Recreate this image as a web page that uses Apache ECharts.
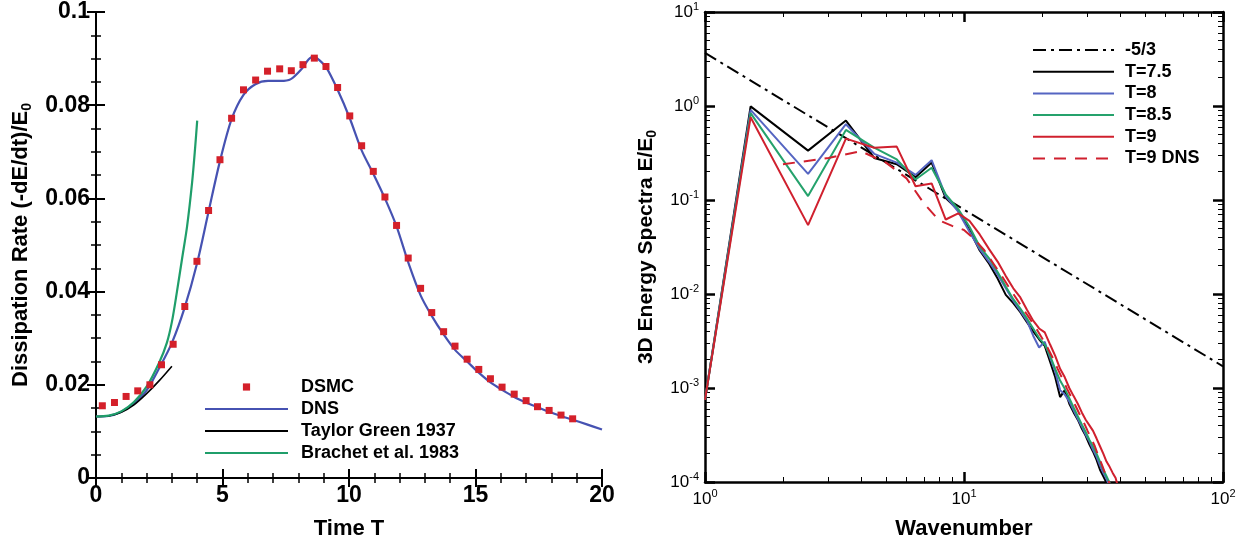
<!DOCTYPE html>
<html><head><meta charset="utf-8">
<script src="https://cdn.jsdelivr.net/npm/echarts@6/dist/echarts.min.js"></script>
<style>html,body{margin:0;padding:0;background:#fff}#c{width:1245px;height:545px}</style>
</head><body><div id="c"></div>
<script>
// ---------- Left panel: dissipation rate ----------
const tDSMC = [0.25,0.73,1.19,1.65,2.13,2.59,3.05,3.51,3.99,4.45,4.90,5.36,5.83,6.31,6.78,7.26,7.72,8.18,8.63,9.09,9.55,10.03,10.50,10.96,11.42,11.88,12.34,12.83,13.27,13.74,14.19,14.67,15.13,15.59,16.05,16.53,17.00,17.45,17.91,18.38,18.84];
const dDSMC = [0.0155,0.0162,0.0175,0.0187,0.0200,0.0243,0.0287,0.0368,0.0465,0.0574,0.0683,0.0772,0.0833,0.0854,0.0873,0.0878,0.0874,0.0887,0.0901,0.0883,0.0838,0.0777,0.0713,0.0658,0.0603,0.0542,0.0472,0.0407,0.0355,0.0314,0.0283,0.0255,0.0233,0.0213,0.0195,0.0180,0.0166,0.0153,0.0145,0.0135,0.0127];
const tDNS = [0,0.5,1,1.5,2,2.5,3,3.5,4,4.45,4.9,5.36,5.83,6.3,6.8,7.3,7.7,8.1,8.4,8.6,8.8,9.1,9.55,10.03,10.5,10.96,11.42,11.88,12.34,12.83,13.27,13.74,14.19,14.67,15.13,15.59,16.05,16.53,17.0,17.45,17.91,18.38,18.84,19.4,20];
const dDNS = [0.0132,0.0133,0.0142,0.0160,0.0188,0.0236,0.0290,0.0365,0.0462,0.0572,0.0680,0.0770,0.0822,0.0845,0.0852,0.0852,0.0856,0.0876,0.0898,0.0905,0.0898,0.0881,0.0833,0.0772,0.0703,0.0653,0.0600,0.0540,0.0463,0.0392,0.0348,0.0308,0.0275,0.0250,0.0226,0.0205,0.0189,0.0174,0.0162,0.0152,0.0142,0.0133,0.0125,0.0115,0.0104];
const tTG = [0,0.5,1,1.5,2,2.5,3];
const dTG = [0.0132,0.0133,0.0141,0.0157,0.0181,0.0209,0.0240];
const tBr = [0,0.5,1,1.5,2,2.5,2.8,3.0,3.2,3.4,3.6,3.8,3.92,4.0];
const dBr = [0.0132,0.0134,0.0143,0.0163,0.0196,0.0248,0.0290,0.0335,0.0400,0.0470,0.0540,0.0635,0.0710,0.0767];
const leftXTicks = [0,5,10,15,20];
const leftYTicks = [0,0.02,0.04,0.06,0.08,0.1];

// ---------- Right panel: energy spectra ----------
const kDSMC = [1,1.5,2.5,3.5,4.5,5.5,6.5,7.5,8.5,9.5,10.5,11.5,12.5,13.5,14.5,15.5,16.5,17.5,18.5,19.5,20.5,21.5,22.5,23.5,24.5,25.5,26.5,27.5,28.5,29.5,30.5,31.5,32.5,33.5,34.5,35.5,36.5,37.5,38.5,39.5];
const eT75 = [7.5e-4,0.99,0.335,0.70,0.28,0.24,0.175,0.25,0.105,0.078,0.048,0.029,0.021,0.0145,0.0098,0.0080,0.0064,0.0050,0.0040,0.0033,0.0028,0.0019,0.0013,0.00080,0.00095,0.00068,0.00055,0.00046,0.00037,0.00031,0.00025,0.00021,0.000172,0.000135,0.000115,0.000098,0.00008,null,null,null];
const eT8 = [7.5e-4,0.91,0.19,0.64,0.31,0.25,0.185,0.265,0.11,0.075,0.046,0.030,0.022,0.016,0.0115,0.0085,0.0066,0.0052,0.0036,0.0027,0.0031,0.0021,0.0015,0.00095,0.00085,0.00072,0.00058,0.00047,0.00039,0.00032,0.00027,0.00022,0.000185,0.000150,0.000125,0.000108,0.00009,null,null,null];
const eT85 = [7.5e-4,0.84,0.11,0.556,0.36,0.27,0.165,0.22,0.115,0.080,0.052,0.032,0.024,0.017,0.012,0.0088,0.0070,0.0055,0.0043,0.0034,0.0029,0.0022,0.0016,0.0012,0.00098,0.00078,0.00062,0.00050,0.00041,0.00034,0.00028,0.00024,0.00020,0.000165,0.000135,0.000115,0.000098,0.00008,null,null];
const eT9 = [7.5e-4,0.76,0.054,0.45,0.36,0.37,0.14,0.15,0.062,0.072,0.060,0.043,0.030,0.022,0.0155,0.0115,0.0092,0.0068,0.0052,0.0043,0.0039,0.0029,0.0022,0.0016,0.0013,0.00100,0.00082,0.00068,0.00055,0.00046,0.00040,0.00035,0.00029,0.00024,0.00020,0.000165,0.000145,0.000125,0.00011,0.000085];
const kDNS = [2,3,4,5,6,7,8,9,10,11,12,13,14,15,16,17,18,19,20,21,22,23,24,25,26,27,28,29,30,31,32,33,34,35,36,37];
const eDNS = [0.24,0.28,0.33,0.25,0.17,0.092,0.061,0.053,0.048,0.038,0.029,0.021,0.0155,0.0115,0.0088,0.0068,0.0054,0.0043,0.0034,0.0027,0.0021,0.0016,0.00125,0.00098,0.00079,0.00064,0.00052,0.00043,0.00035,0.00029,0.00024,0.00019,0.000155,0.000125,0.000105,0.000088];
const kSlope = [1,100];
const eSlope = [3.67,0.0017];
const specXExp = {1:'0',10:'1',100:'2'};
const specYExp = {0.0001:'-4',0.001:'-3',0.01:'-2',0.1:'-1',1:'0',10:'1'};

const zip = (a,b) => a.map((v,i) => [v,b[i]]);

const FONT = 'Liberation Sans, Arial, Helvetica, sans-serif';
const chart = echarts.init(document.getElementById('c'), null, {renderer:'canvas'});

function leftAxis(extra, split) {
  return Object.assign({
    axisLine:{show:true,lineStyle:{color:'#000',width:2}},
    axisTick:{show:true,inside:true,length:9,lineStyle:{color:'#000',width:2}},
    minorTick:{show:true,splitNumber:split,length:5,lineStyle:{color:'#000',width:1.5}},
    splitLine:{show:false}, minorSplitLine:{show:false}
  }, extra);
}
function rightAxis(extra) {
  return Object.assign({
    type:'log', logBase:10,
    axisLine:{show:true,lineStyle:{color:'#000',width:2.5}},
    axisTick:{show:true,inside:true,length:10,lineStyle:{color:'#000',width:2.5}},
    minorTick:{show:true,splitNumber:9,length:5,lineStyle:{color:'#000',width:1}},
    splitLine:{show:false}, minorSplitLine:{show:false}
  }, extra);
}
const supRich = {
  b:{fontFamily:FONT,fontSize:17,color:'#000',lineHeight:22},
  s:{fontFamily:FONT,fontSize:11,color:'#000',verticalAlign:'top',lineHeight:11}
};
const hideSym = {itemStyle:{opacity:0}};

const option = {
  animation:false,
  backgroundColor:'#fff',
  grid:[
    {left:96,top:12,width:506,height:474},
    {left:705,top:12,width:518,height:474}
  ],
  xAxis:[
    leftAxis({gridIndex:0,type:'value',position:'bottom',min:0,max:20,interval:5,
      name:'Time T',nameLocation:'middle',nameGap:40,
      nameTextStyle:{fontFamily:FONT,fontSize:22,fontWeight:'bold',color:'#000'},
      axisLabel:{fontFamily:FONT,fontSize:23,fontWeight:'bold',color:'#000',margin:6,
        formatter:v => leftXTicks.includes(v) ? String(v) : ''}}, 5),
    leftAxis({gridIndex:0,type:'value',position:'top',min:0,max:20,interval:5,
      axisLabel:{show:false}}, 5),
    rightAxis({gridIndex:1,position:'bottom',min:1,max:100,
      name:'Wavenumber',nameLocation:'middle',nameGap:36,
      nameTextStyle:{fontFamily:FONT,fontSize:22,fontWeight:'bold',color:'#000'},
      axisLabel:{margin:6,formatter:v => '{b|10}{s|' + specXExp[v] + '}',rich:supRich}}),
    rightAxis({gridIndex:1,position:'top',min:1,max:100,axisLabel:{show:false}})
  ],
  yAxis:[
    leftAxis({gridIndex:0,type:'value',position:'left',min:0,max:0.1,interval:0.02,
      name:'{a|Dissipation Rate (-dE/dt)/E}{u|0}',nameLocation:'middle',nameGap:62,
      nameTextStyle:{rich:{
        a:{fontFamily:FONT,fontSize:22,fontWeight:'bold',color:'#000',lineHeight:26},
        u:{fontFamily:FONT,fontSize:14,fontWeight:'bold',color:'#000',verticalAlign:'bottom',lineHeight:14}}},
      axisLabel:{fontFamily:FONT,fontSize:23,fontWeight:'bold',color:'#000',margin:6,
        formatter:v => { const f = leftYTicks.find(t => Math.abs(t-v)<1e-9); return f===undefined ? '' : String(f); }}}, 4),
    leftAxis({gridIndex:0,type:'value',position:'right',min:0,max:0.1,interval:0.02,
      axisLabel:{show:false}}, 4),
    rightAxis({gridIndex:1,position:'left',min:1e-4,max:10,
      name:'{a|3D Energy Spectra E/E}{u|0}',nameLocation:'middle',nameGap:46,
      nameTextStyle:{rich:{
        a:{fontFamily:FONT,fontSize:21,fontWeight:'bold',color:'#000',lineHeight:25},
        u:{fontFamily:FONT,fontSize:14,fontWeight:'bold',color:'#000',verticalAlign:'bottom',lineHeight:14}}},
      axisLabel:{margin:6,formatter:v => { const k = Object.keys(specYExp).find(t => Math.abs(Math.log10(+t)-Math.log10(v))<1e-6); return '{b|10}{s|' + (k===undefined?'':specYExp[k]) + '}'; },rich:supRich}}),
    rightAxis({gridIndex:1,position:'right',min:1e-4,max:10,axisLabel:{show:false}})
  ],
  legend:[
    {left:199,top:373,orient:'vertical',itemWidth:83,itemHeight:9,itemGap:4,
      textStyle:{fontFamily:FONT,fontSize:18,fontWeight:'bold',color:'#000',lineHeight:18,padding:[0,0,0,8]},
      data:[{name:'DSMC'},Object.assign({name:'DNS'},hideSym),Object.assign({name:'Taylor Green 1937'},hideSym),Object.assign({name:'Brachet et al. 1983'},hideSym)]},
    {left:1027,top:36,orient:'vertical',itemWidth:81,itemHeight:9,itemGap:3.7,
      textStyle:{fontFamily:FONT,fontSize:18,fontWeight:'bold',color:'#000',lineHeight:18,padding:[0,0,0,6]},
      data:['-5/3','T=7.5','T=8','T=8.5','T=9','T=9 DNS'].map(n => Object.assign({name:n},hideSym))}
  ],
  series:[
    {name:'DNS',type:'line',xAxisIndex:0,yAxisIndex:0,data:zip(tDNS,dDNS),symbol:'none',smooth:0.3,
      lineStyle:{color:'#4652b2',width:2.2},itemStyle:{color:'#4652b2'},z:3},
    {name:'Taylor Green 1937',type:'line',xAxisIndex:0,yAxisIndex:0,data:zip(tTG,dTG),symbol:'none',smooth:0.3,
      lineStyle:{color:'#000',width:1.6},itemStyle:{color:'#000'},z:3},
    {name:'Brachet et al. 1983',type:'line',xAxisIndex:0,yAxisIndex:0,data:zip(tBr,dBr),symbol:'none',smooth:0.3,
      lineStyle:{color:'#1f9e6a',width:2.2},itemStyle:{color:'#1f9e6a'},z:3},
    {name:'DSMC',type:'line',xAxisIndex:0,yAxisIndex:0,data:zip(tDSMC,dDSMC),symbol:'rect',symbolSize:7,showSymbol:true,
      lineStyle:{opacity:0,width:0},itemStyle:{color:'#d4202a'},z:4},

    {name:'-5/3',type:'line',xAxisIndex:2,yAxisIndex:2,data:zip(kSlope,eSlope),symbol:'none',
      lineStyle:{color:'#000',width:2,type:[13,5,3,5]},itemStyle:{color:'#000'}},
    {name:'T=7.5',type:'line',xAxisIndex:2,yAxisIndex:2,data:zip(kDSMC,eT75),symbol:'none',
      lineStyle:{color:'#000',width:2},itemStyle:{color:'#000'}},
    {name:'T=8',type:'line',xAxisIndex:2,yAxisIndex:2,data:zip(kDSMC,eT8),symbol:'none',
      lineStyle:{color:'#5565c2',width:2},itemStyle:{color:'#5565c2'}},
    {name:'T=8.5',type:'line',xAxisIndex:2,yAxisIndex:2,data:zip(kDSMC,eT85),symbol:'none',
      lineStyle:{color:'#25a26c',width:2},itemStyle:{color:'#25a26c'}},
    {name:'T=9',type:'line',xAxisIndex:2,yAxisIndex:2,data:zip(kDSMC,eT9),symbol:'none',
      lineStyle:{color:'#d0202e',width:2},itemStyle:{color:'#d0202e'}},
    {name:'T=9 DNS',type:'line',xAxisIndex:2,yAxisIndex:2,data:zip(kDNS,eDNS),symbol:'none',
      lineStyle:{color:'#d0202e',width:2,type:[12,9]},itemStyle:{color:'#d0202e'}}
  ]
};
chart.setOption(option);
</script></body></html>
